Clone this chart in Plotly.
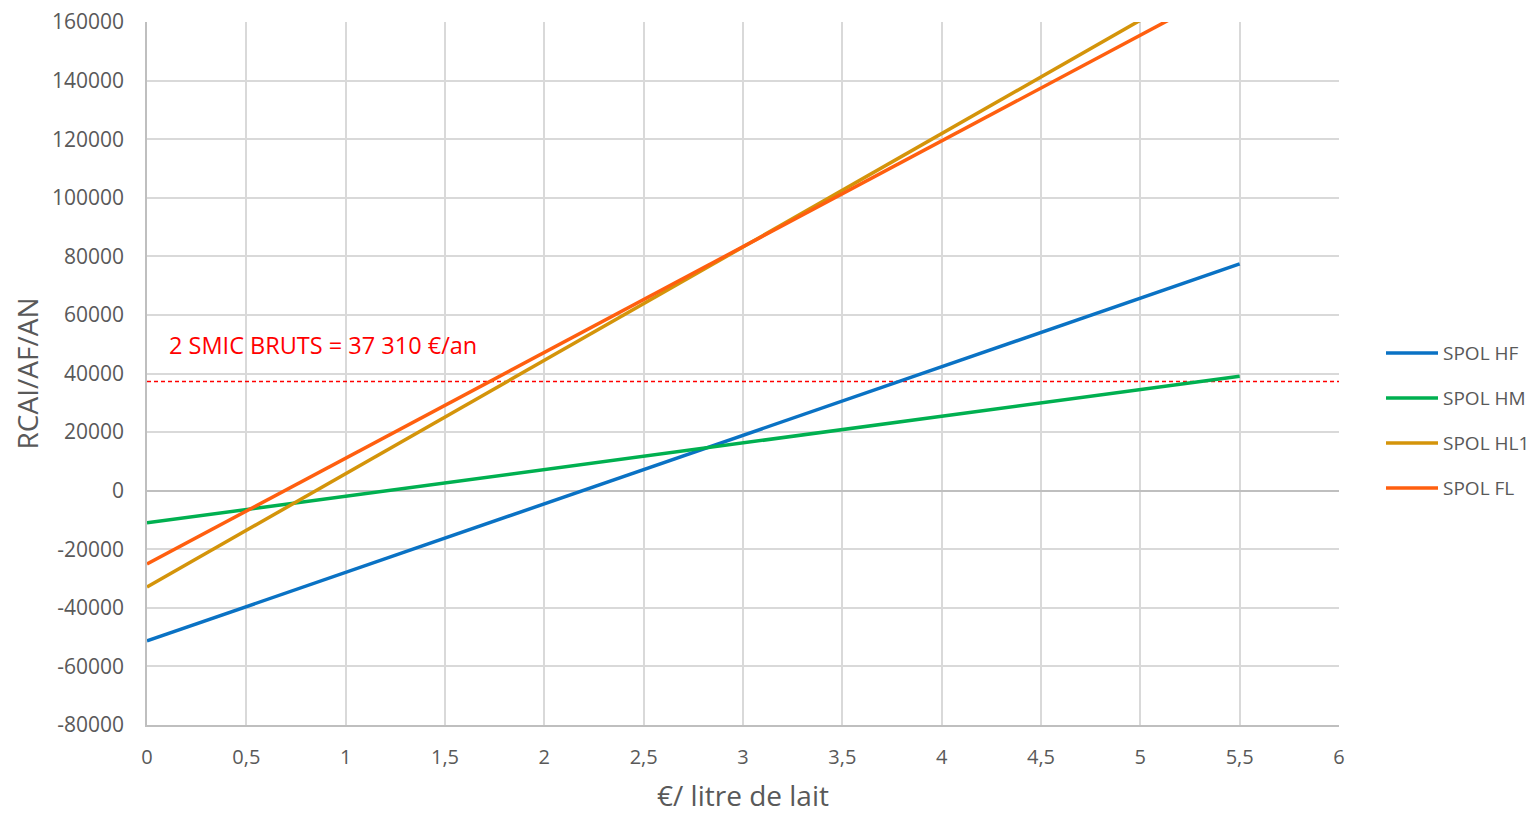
import plotly.graph_objects as go

# ---- data ----
x_vals = [0, 1, 2, 3, 4, 5, 5.5]
spol_hf = [-51300, -27900, -4500, 18900, 42300, 65700, 77400]
spol_hm = [-11000, -1900, 7200, 16300, 25400, 34500, 39050]
spol_hl1 = [-32900, 5800, 44500, 83200, 121900, 160600, 179950]
spol_fl = [-25000, 11100, 47200, 83300, 119400, 155500, 173550]

series_names = ["SPOL HF", "SPOL HM", "SPOL HL1", "SPOL FL"]
series_values = [spol_hf, spol_hm, spol_hl1, spol_fl]
series_colors = ["#0A72C4", "#00B050", "#D4940A", "#FF5F0F"]

smic_x = [0, 6]
smic_y = [37310, 37310]
smic_label = "2 SMIC BRUTS = 37 310 €/an"

x_tickvals = [0, 0.5, 1, 1.5, 2, 2.5, 3, 3.5, 4, 4.5, 5, 5.5, 6]
x_ticktext = ["0", "0,5", "1", "1,5", "2", "2,5", "3", "3,5", "4", "4,5", "5", "5,5", "6"]
y_tickvals = [-80000, -60000, -40000, -20000, 0, 20000, 40000, 60000, 80000,
              100000, 120000, 140000, 160000]
y_ticktext = [str(v) for v in y_tickvals]

x_title = "€/ litre de lait"
y_title = "RCAI/AF/AN"

# ---- layout geometry (page pixels; the page body adds an 8px offset) ----
OFF = 8
W, H = 1537 - OFF, 814 - OFF
L, R, T, B = 147 - OFF, 1339 - OFF, 22 - OFF, 725 - OFF
FONT = "Open Sans, Liberation Sans, sans-serif"
GREY = "#595959"

fig = go.Figure()

fig.add_trace(go.Scatter(x=smic_x, y=smic_y, mode="lines",
                         line=dict(color="#FF0000", width=1.5, dash="4px,3px"),
                         showlegend=False, hoverinfo="skip"))

for name, vals, col in zip(series_names, series_values, series_colors):
    fig.add_trace(go.Scatter(x=x_vals, y=vals, mode="lines", name=name,
                             line=dict(color=col, width=3.5), showlegend=False))

def px_x(p):
    return (p - OFF - L) / (R - L)

def px_y(p):
    return (B - (p - OFF)) / (B - T)

shapes = []
annotations = []
legend_y = [353, 398, 443, 488]
for name, col, py in zip(series_names, series_colors, legend_y):
    shapes.append(dict(type="line", xref="paper", yref="paper",
                       x0=px_x(1386), x1=px_x(1438), y0=px_y(py), y1=px_y(py),
                       line=dict(color=col, width=3.5)))
    annotations.append(dict(xref="paper", yref="paper", x=px_x(1441), y=px_y(py),
                            text=name, showarrow=False, xanchor="left", yanchor="middle",
                            font=dict(family=FONT, size=19, color=GREY)))

annotations.append(dict(x=0.1, y=49700, xref="x", yref="y", text=smic_label,
                        showarrow=False, xanchor="left", yanchor="middle",
                        font=dict(family=FONT, size=23.5, color="#FF0000")))

fig.update_layout(
    width=W, height=H,
    margin=dict(l=L, r=W - R, t=T, b=H - B, pad=0, autoexpand=False),
    paper_bgcolor="white", plot_bgcolor="white",
    font=dict(family=FONT, color=GREY, size=20),
    shapes=shapes, annotations=annotations,
    showlegend=False,
)
fig.update_xaxes(range=[0, 6], tickvals=x_tickvals, ticktext=x_ticktext,
                 automargin=False, ticklabeloverflow="allow",
                 showgrid=True, gridcolor="#D9D9D9", gridwidth=1.5,
                 showline=True, linecolor="#BFBFBF", linewidth=1.5,
                 zeroline=False, ticks="", ticklabelstandoff=13,
                 tickfont=dict(size=20, color=GREY),
                 title=dict(text=x_title, font=dict(size=28, color=GREY), standoff=26))
fig.update_yaxes(range=[-80000, 160000], tickvals=y_tickvals, ticktext=y_ticktext,
                 automargin=False, ticklabeloverflow="allow",
                 showgrid=True, gridcolor="#D9D9D9", gridwidth=1.5,
                 showline=True, linecolor="#BFBFBF", linewidth=1.5,
                 zeroline=True, zerolinecolor="#BFBFBF", zerolinewidth=1.5,
                 ticks="", ticklabelstandoff=17,
                 tickfont=dict(size=21, color=GREY),
                 title=dict(text=y_title, font=dict(size=28, color=GREY), standoff=13))

fig.write_html("out.html")
